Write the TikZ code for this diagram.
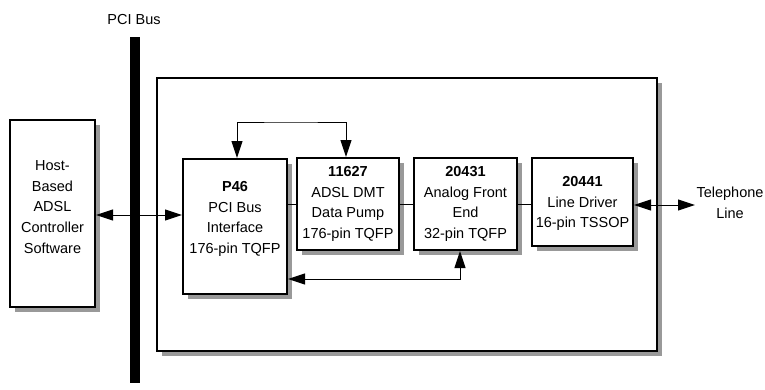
\documentclass[tikz,border=0pt]{standalone}
\usepackage{fontspec}
\setmainfont{Liberation Sans}
\usetikzlibrary{arrows.meta,shadows}
\begin{document}
\begin{tikzpicture}[x=1pt,y=-1pt,
  every node/.style={font=\fontsize{14.5}{20.7}\selectfont},
  blk/.style={draw=black,line width=2pt,fill=white,inner sep=0pt,
    drop shadow={shadow xshift=4.5pt,shadow yshift=-4.5pt,fill=black!40,opacity=1}},
  txt/.style={align=center,inner sep=0pt},
  conn/.style={line width=1pt},
  biarr/.style={conn,{Triangle[length=17pt,width=11pt]}-{Triangle[length=17pt,width=11pt]}}]
\useasboundingbox (0,0) rectangle (765,389);
% boxes
\node[blk,minimum width=500,minimum height=273] (outer) at (407,214.5) {};
\node[blk,minimum width=85,minimum height=187] (host) at (52.5,213.5) {};
\node[blk,minimum width=104,minimum height=135] (p46) at (235,226.5) {};
\node[blk,minimum width=102,minimum height=92] (dmt) at (348,204) {};
\node[blk,minimum width=103,minimum height=92] (afe) at (465.5,204) {};
\node[blk,minimum width=101,minimum height=88] (ld) at (582.5,202) {};
% texts
\node[txt] (hosttxt) at (52.5,207) {Host-\\Based\\ADSL\\Controller\\Software};
\node[txt] (p46txt) at (235,219) {\textbf{P46}\\PCI Bus\\Interface\\176-pin TQFP};
\node[txt] (dmttxt) at (348,204) {\textbf{11627}\\ADSL DMT\\Data Pump\\176-pin TQFP};
\node[txt] (afetxt) at (465.5,204) {\textbf{20431}\\Analog Front\\End\\32-pin TQFP};
\node[txt] (ldtxt) at (582.5,203.5) {\textbf{20441}\\Line Driver\\16-pin TSSOP};
\node[txt] (teltxt) at (730,203) {Telephone\\Line};
\node[txt] (bustxt) at (134,20) {PCI Bus};
% connectors
\coordinate (hy) at (140,215);
\draw[biarr] (host.east |- hy) -- (p46.west |- hy);
\node[fill=black,inner sep=0pt,minimum width=10,minimum height=346] (bar) at (135,210) {};
\coordinate (top) at (290,122);
\draw[biarr] ([xshift=2pt]p46.north) |- (top) -| ([xshift=-2pt]dmt.north);
\coordinate (bot) at (460,279);
\draw[biarr] (p46.east |- bot) -- (bot) -- (afe.south -| bot);
\draw[conn] (p46.east |- dmt.west) -- (dmt.west);
\draw[conn] (dmt.east) -- (afe.west);
\draw[conn] (afe.east) -- (afe.east -| ld.west);
\coordinate (telend) at (695,205);
\draw[biarr] (ld.east |- telend) -- (telend);
\end{tikzpicture}
\end{document}
